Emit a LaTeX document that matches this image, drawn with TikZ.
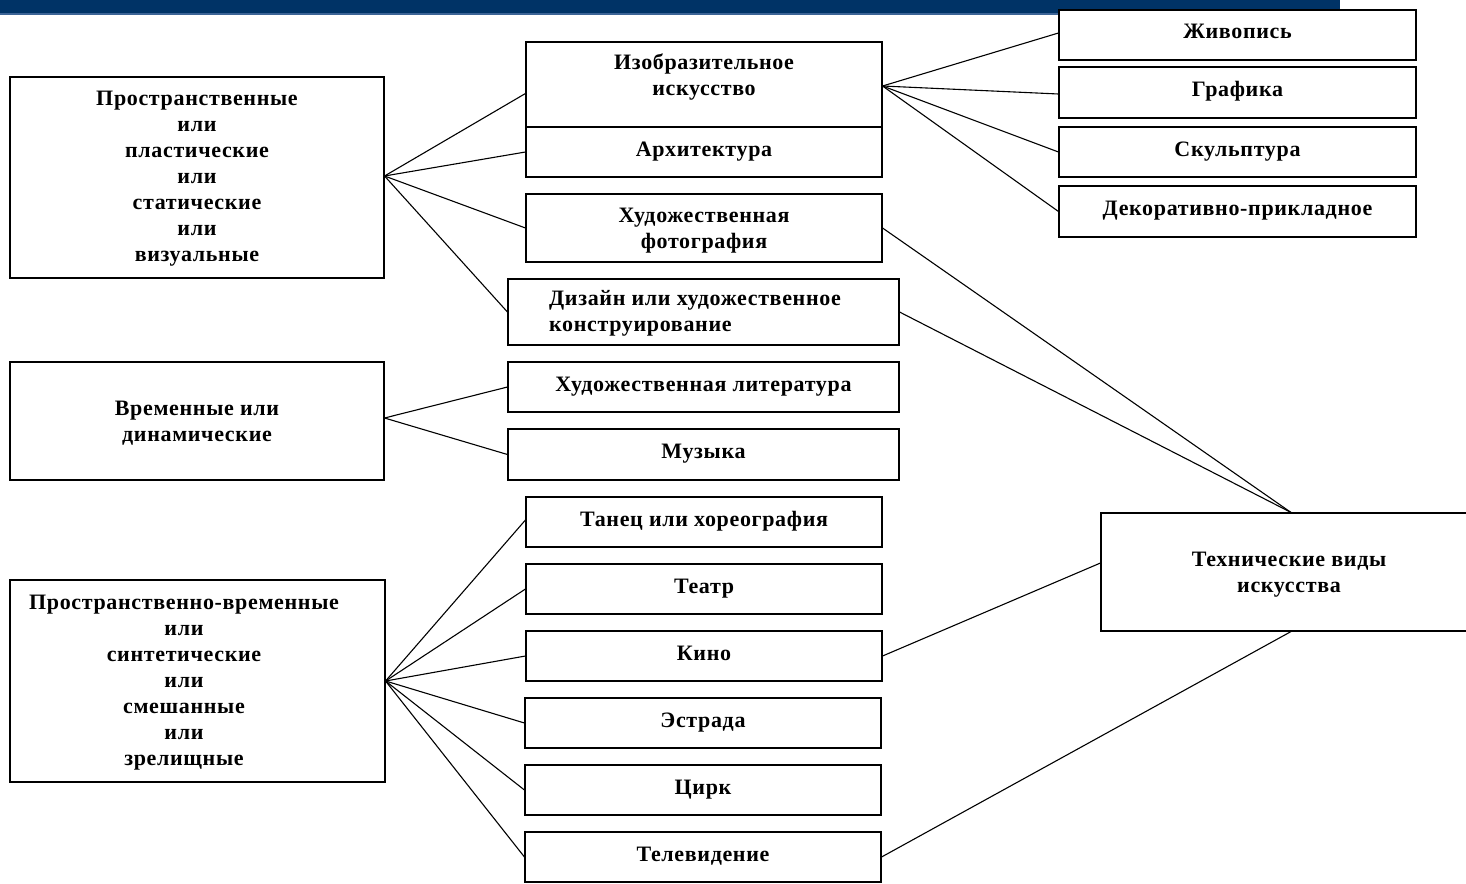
\documentclass[tikz,border=0pt]{standalone}
\usepackage{fontspec}
\setmainfont{Liberation Serif}[LetterSpace=3]
\definecolor{barblue}{RGB}{0,51,102}
\definecolor{barline}{RGB}{60,100,150}
\begin{document}
\begin{tikzpicture}[x=1pt,y=-1pt,
  box/.style={draw=black, line width=1.1pt, fill=white, inner sep=0pt, align=center,
    font=\bfseries\fontsize{22}{26}\selectfont},
  one/.style={text height=14pt, text depth=6pt},
  txt/.style={inner sep=0pt, align=center, font=\bfseries\fontsize{22}{26}\selectfont},
  conn/.style={line width=1.1pt}]
\useasboundingbox (0,0) rectangle (1466,883);
\fill[barblue] (0,0) rectangle (1340,13);
\fill[barline] (0,13) rectangle (1340,15);
% left group boxes
\node[box, minimum width=374, minimum height=201] (L1) at (197,177.5) {};
\node[txt] (L1t) at (197,179)
  {Пространственные\\или\\пластические\\или\\статические\\или\\визуальные};
\node[box, minimum width=374, minimum height=118] (L2) at (197,421) {};
\node[txt] (L2t) at (197,423) {Временные или\\динамические};
\node[box, minimum width=375, minimum height=202] (L3) at (197.5,681) {};
\node[txt] (L3t) at (184,682.5)
  {Пространственно-временные\\или\\синтетические\\или\\смешанные\\или\\зрелищные};
% middle boxes
\node[box, minimum width=356, minimum height=85] (izo) at (704,84.5) {};
\node[txt] (izot) at (704,77) {Изобразительное\\искусство};
\node[box, one, minimum width=356, minimum height=50] (arch) at (704,152) {Архитектура};
\node[box, minimum width=356, minimum height=68] (foto) at (704,228) {};
\node[txt] (fotot) at (704,230.5) {Художественная\\фотография};
\node[box, minimum width=391, minimum height=66] (diz) at (703.5,312) {};
\node[txt, anchor=west, align=left] (dizt) at (549,313) {Дизайн или художественное\\конструирование};
\node[box, one, minimum width=391, minimum height=50] (lit) at (703.5,387) {Художественная литература};
\node[box, one, minimum width=391, minimum height=51] (muz) at (703.5,454.5) {Музыка};
\node[box, one, minimum width=356, minimum height=50] (tan) at (704,522) {Танец или хореография};
\node[box, one, minimum width=356, minimum height=50] (teatr) at (704,589) {Театр};
\node[box, one, minimum width=356, minimum height=50] (kino) at (704,656) {Кино};
\node[box, one, minimum width=356, minimum height=50] (estr) at (703,723) {Эстрада};
\node[box, one, minimum width=356, minimum height=50] (cirk) at (703,790) {Цирк};
\node[box, one, minimum width=356, minimum height=50] (tv) at (703,857) {Телевидение};
% right boxes
\node[box, one, minimum width=357, minimum height=50] (zhiv) at (1237.5,35) {Живопись};
\node[box, one, minimum width=357, minimum height=51] (graf) at (1237.5,92.5) {Графика};
\node[box, one, minimum width=357, minimum height=50] (skul) at (1237.5,152) {Скульптура};
\node[box, one, minimum width=357, minimum height=51] (dek) at (1237.5,211.5) {Декоративно-прикладное};
\node[box, minimum width=380, minimum height=118] (tech) at (1291,572) {};
\node[txt] (techt) at (1289,574.5) {Технические виды\\искусства};
% connectors
\draw[conn] ([yshift=1.5pt]L1.east) -- ([yshift=-9pt]izo.west);
\draw[conn] ([yshift=1.5pt]L1.east) -- (arch.west);
\draw[conn] ([yshift=1.5pt]L1.east) -- (foto.west);
\draw[conn] ([yshift=1.5pt]L1.east) -- (diz.west);
\draw[conn] ([yshift=3pt]L2.east) -- (lit.west);
\draw[conn] ([yshift=3pt]L2.east) -- (muz.west);
\draw[conn] (L3.east) -- ([yshift=2pt]tan.west);
\draw[conn] (L3.east) -- (teatr.west);
\draw[conn] (L3.east) -- (kino.west);
\draw[conn] (L3.east) -- (estr.west);
\draw[conn] (L3.east) -- (cirk.west);
\draw[conn] (L3.east) -- (tv.west);
\draw[conn] ([yshift=-1.5pt]izo.east) -- ([yshift=2pt]zhiv.west);
\draw[conn] ([yshift=-1.5pt]izo.east) -- ([yshift=-1.5pt]graf.west);
\draw[conn] ([yshift=-1.5pt]izo.east) -- (skul.west);
\draw[conn] ([yshift=-1.5pt]izo.east) -- (dek.west);
\draw[conn] (foto.east) -- (tech.north);
\draw[conn] (diz.east) -- (tech.north);
\draw[conn] (kino.east) -- ([yshift=9pt]tech.west);
\draw[conn] (tv.east) -- (tech.south);
\end{tikzpicture}
\end{document}
